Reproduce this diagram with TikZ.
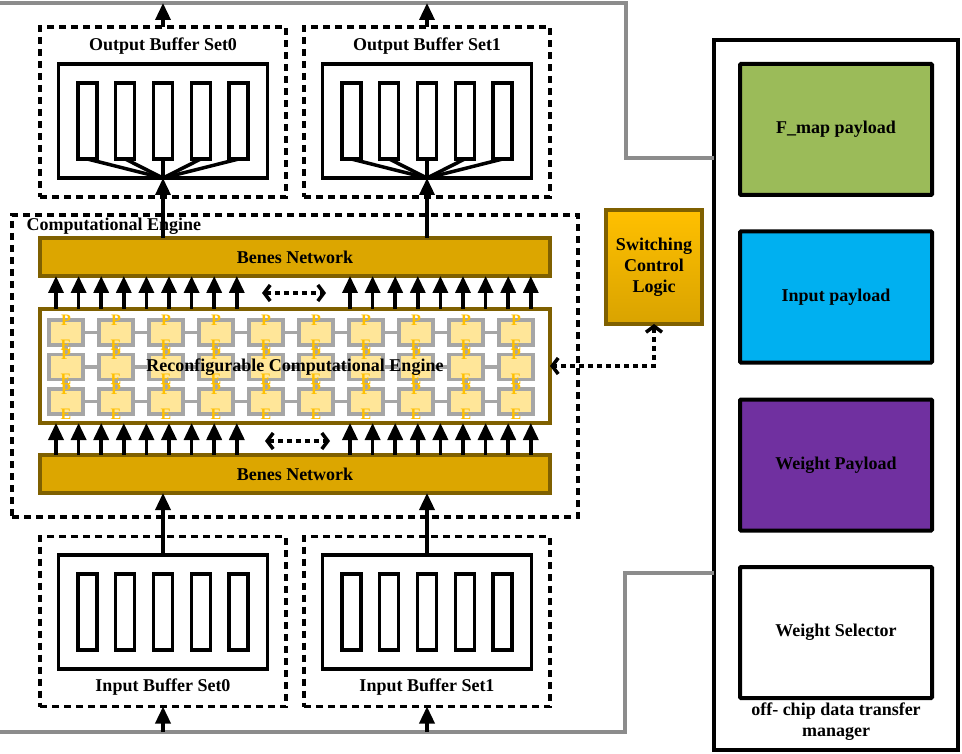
\documentclass[tikz,border=0pt]{standalone}
\usepackage{fontspec}
\setmainfont{Liberation Serif}
\usetikzlibrary{calc,arrows.meta}

\definecolor{benesfill}{HTML}{DCA600}
\definecolor{benesdraw}{HTML}{7F6000}
\definecolor{pefill}{HTML}{FFE699}
\definecolor{pegray}{HTML}{A6A6A6}
\definecolor{pegold}{HTML}{FFC000}
\definecolor{wiregray}{HTML}{8C8C8C}
\definecolor{fmapgreen}{HTML}{9BBB59}
\definecolor{inblue}{HTML}{00B0F0}
\definecolor{wpurple}{HTML}{7030A0}
\definecolor{logictop}{HTML}{FFC000}
\definecolor{logicbot}{HTML}{D9A300}

\begin{document}
\begin{tikzpicture}
  [x=1pt,y=-1pt,>={Triangle[length=17pt,width=15pt]},
   font=\fontsize{18}{21}\selectfont\bfseries]

\useasboundingbox (0,0) rectangle (962,754);

% define styles
\tikzstyle{dbox} = [draw, line width=3.5pt, dash pattern=on 7pt off 5pt, minimum width=246pt, minimum height=170pt, outer sep=0pt];
\tikzstyle{buf} = [draw, line width=3.5pt, minimum width=209pt, minimum height=114pt, outer sep=0pt];
\tikzstyle{bar} = [draw, line width=3.5pt, minimum width=19pt, minimum height=76pt, outer sep=0pt];
\tikzstyle{benes} = [draw=benesdraw, fill=benesfill, line width=3.5pt, minimum width=510pt, minimum height=38pt, outer sep=0pt];
\tikzstyle{pe} = [draw=pegray, fill=pefill, line width=3.5pt, minimum width=34pt, minimum height=25pt, outer sep=0pt];
\tikzstyle{peline} = [draw=pegray, line width=3.5pt];
\tikzstyle{petxt} = [text=pegold, inner sep=0pt, font=\fontsize{16}{16}\selectfont\bfseries];
\tikzstyle{payload} = [draw, line width=4pt, rounded corners=1pt, minimum width=192pt, minimum height=131pt, outer sep=0pt];
\tikzstyle{link} = [->, line width=3.5pt];
\tikzstyle{dbl} = [line width=3.5pt, dash pattern=on 5pt off 4pt, {Straight Barb[length=6pt,width=16pt]}-{Straight Barb[length=6pt,width=16pt]}];
\tikzstyle{wire} = [draw=wiregray, line width=3.5pt];

% define new commands
\newcommand{\bufset}[6]{
  \node[dbox] (#1) at (#2,#3) {};
  \node[buf] (#1b) at (#2,#4) {};
  \node (#1t) at (#2,#5) {#6};
  \foreach \i in {1,...,5}{
    \pgfmathparse{#2+37.8*(\i-3)}
    \edef\bx{\pgfmathresult}
    \node[bar] (#1r\i) at (\bx,#4) {};
  }
}

\newcommand{\fan}[1]{
  \foreach \i in {1,...,5}
    \draw[line width=3.5pt] (#1r\i.south) -- (#1b.south);
}

% gray wires from/to the transfer manager
\node[draw, line width=4pt, minimum width=244pt, minimum height=710pt, outer sep=0pt] (mgr) at (836,395) {};
\coordinate (tw0) at (0,3);
\coordinate (tw1) at (626,3);
\coordinate (bw0) at (0,732);
\coordinate (bw1) at (625,732);
\draw[wire] (tw0) -- (tw1) |- (mgr.west |- 0,158);
\draw[wire] (bw0) -- (bw1) |- (mgr.west |- 0,573);

% payload boxes
\node[payload, fill=fmapgreen] (fmap) at (836,129.5) {F\_map payload};
\node[payload, fill=inblue] (inp) at (836,297) {Input payload};
\node[payload, fill=wpurple] (wpl) at (836,465) {Weight Payload};
\node[payload, fill=white] (wsel) at (836,632.5) {Weight Selector};
\node[align=center, inner sep=0pt] (mgrt) at (836,722) {off- chip data transfer\\manager};

% buffer sets
\bufset{ob0}{163}{112}{121}{46}{Output Buffer Set0}
\bufset{ob1}{427}{112}{121}{46}{Output Buffer Set1}
\bufset{ib0}{163}{621.5}{612}{687}{Input Buffer Set0}
\bufset{ib1}{427}{621.5}{612}{687}{Input Buffer Set1}
\fan{ob0}
\fan{ob1}

% computational engine
\node[dbox, minimum width=566pt, minimum height=302pt] (ce) at (295,366) {};
\node[anchor=west] (cet) at (23,226) {Computational Engine};
\node[benes] (tbn) at (295,257) {Benes Network};
\node[benes] (bbn) at (295,474) {Benes Network};
\node[draw=benesdraw, fill=white, line width=3.5pt, minimum width=510pt, minimum height=114pt, outer sep=0pt] (pea) at (295,366) {};

% draw PE nodes
\foreach \c in {0,...,9}
  \foreach \r in {0,1,2}{
    \pgfmathparse{66+50*\c}
    \edef\px{\pgfmathresult}
    \pgfmathparse{332.5+34.5*\r}
    \edef\py{\pgfmathresult}
    \node[pe] (p\c\r) at (\px,\py) {};
  }

% horizontal and vertical PE links
\foreach \c in {0,...,8}
  \foreach \r in {0,1,2}{
    \pgfmathparse{int(\c+1)}
    \edef\cc{\pgfmathresult}
    \draw[peline] (p\c\r.east) -- (p\cc\r.west);
  }
\foreach \c in {0,...,9}
  \foreach \r in {0,1}{
    \pgfmathparse{int(\r+1)}
    \edef\rr{\pgfmathresult}
    \draw[peline] (p\c\r.south) -- (p\c\rr.north);
  }

% PE letters
\foreach \c in {0,...,9}
  \foreach \r in {0,1,2}{
    \node[petxt] (p\c\r P) at (p\c\r.north) {P};
    \node[petxt] (p\c\r E) at (p\c\r.south) {E};
  }
\node (peat) at (295,367) {Reconfigurable Computational Engine};

% arrows between Benes networks and PE array
\foreach \i in {0,...,8}{
  \pgfmathparse{16+22.6*\i}
  \edef\dx{\pgfmathresult}
  \draw[link] ([xshift=\dx] pea.north west) -- ([xshift=\dx] tbn.south west);
  \draw[link] ([xshift=\dx] bbn.north west) -- ([xshift=\dx] pea.south west);
  \pgfmathparse{310+22.6*\i}
  \edef\dx{\pgfmathresult}
  \draw[link] ([xshift=\dx] pea.north west) -- ([xshift=\dx] tbn.south west);
  \draw[link] ([xshift=\dx] bbn.north west) -- ([xshift=\dx] pea.south west);
}
\coordinate (sw0) at (262,293);
\coordinate (sw1) at (326,293);
\coordinate (sw2) at (265,441);
\coordinate (sw3) at (330,441);
\draw[dbl] (sw0) -- (sw1);
\draw[dbl] (sw2) -- (sw3);

% buffer connections
\draw[link] (tbn.north -| ob0b.south) -- (ob0b.south);
\draw[link] (tbn.north -| ob1b.south) -- (ob1b.south);
\draw[link] (ob0.north) -- (ob0.north |- tw0);
\draw[link] (ob1.north) -- (ob1.north |- tw0);
\draw[link] (ib0b.north) -- (bbn.south -| ib0b.north);
\draw[link] (ib1b.north) -- (bbn.south -| ib1b.north);
\draw[link] (ib0.south |- bw0) -- (ib0.south);
\draw[link] (ib1.south |- bw0) -- (ib1.south);

% switching control logic
\node[draw=benesdraw, line width=3.5pt, top color=logictop, bottom color=logicbot, minimum width=96pt, minimum height=114pt, align=center, outer sep=0pt] (slc) at (654,267) {Switching\\Control\\Logic};
\draw[dbl] (slc.south) |- (pea.east);

\end{tikzpicture}
\end{document}
